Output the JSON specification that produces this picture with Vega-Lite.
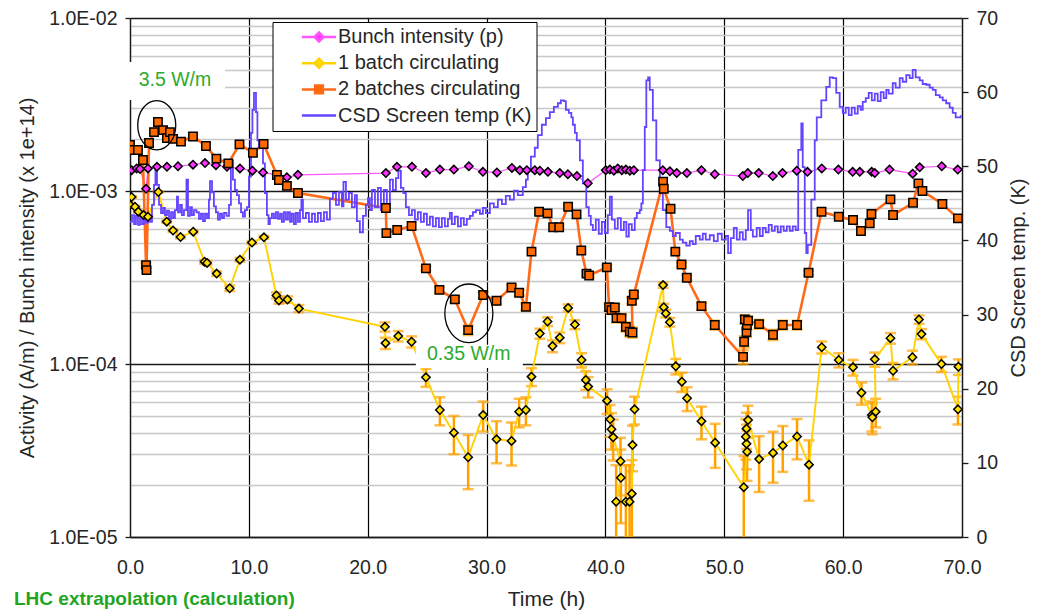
{
"$schema":"https://vega.github.io/schema/vega-lite/v6.json",
"width":832,"height":519,
"autosize":{"type":"none"},
"padding":{"left":130,"top":18,"right":85,"bottom":75},
"background":"white",
"config":{"font":"Liberation Sans","view":{"stroke":null},
"axis":{"labelFont":"Liberation Sans","titleFont":"Liberation Sans","labelColor":"#262626","titleColor":"#262626","titleFontWeight":"normal"},
"legend":{"labelFont":"Liberation Sans","labelFontSize":20,"labelColor":"#262626","labelLimit":400}},
"title":{"text":"LHC extrapolation (calculation)","orient":"bottom","anchor":"start","frame":"group","dx":-116,"offset":-20,"fontSize":19,"fontWeight":"bold","color":"#1FA51F","font":"Liberation Sans"},
"datasets":{
"main":[
{"s":"Bunch intensity (p)","t":0.14,"v":1.32e-3},{"s":"Bunch intensity (p)","t":0.56,"v":1.35e-3},{"s":"Bunch intensity (p)","t":0.84,"v":1.34e-3},{"s":"Bunch intensity (p)","t":1.35,"v":1.03e-3},{"s":"Bunch intensity (p)","t":1.51,"v":1.35e-3},{"s":"Bunch intensity (p)","t":2.27,"v":1.38e-3},{"s":"Bunch intensity (p)","t":3.11,"v":1.38e-3},{"s":"Bunch intensity (p)","t":4.04,"v":1.39e-3},{"s":"Bunch intensity (p)","t":5.3,"v":1.42e-3},{"s":"Bunch intensity (p)","t":6.31,"v":1.45e-3},{"s":"Bunch intensity (p)","t":7.23,"v":1.41e-3},{"s":"Bunch intensity (p)","t":8.16,"v":1.38e-3},{"s":"Bunch intensity (p)","t":9.25,"v":1.35e-3},{"s":"Bunch intensity (p)","t":10.3,"v":1.31e-3},{"s":"Bunch intensity (p)","t":11.19,"v":1.28e-3},{"s":"Bunch intensity (p)","t":12.36,"v":1.24e-3},{"s":"Bunch intensity (p)","t":13.2,"v":1.2e-3},{"s":"Bunch intensity (p)","t":14.13,"v":1.24e-3},{"s":"Bunch intensity (p)","t":21.53,"v":1.27e-3},{"s":"Bunch intensity (p)","t":22.46,"v":1.38e-3},{"s":"Bunch intensity (p)","t":23.72,"v":1.38e-3},{"s":"Bunch intensity (p)","t":24.9,"v":1.27e-3},{"s":"Bunch intensity (p)","t":26.07,"v":1.33e-3},{"s":"Bunch intensity (p)","t":27.25,"v":1.33e-3},{"s":"Bunch intensity (p)","t":28.51,"v":1.39e-3},{"s":"Bunch intensity (p)","t":29.69,"v":1.29e-3},{"s":"Bunch intensity (p)","t":30.87,"v":1.28e-3},{"s":"Bunch intensity (p)","t":32.13,"v":1.36e-3},{"s":"Bunch intensity (p)","t":32.8,"v":1.32e-3},{"s":"Bunch intensity (p)","t":33.39,"v":1.32e-3},{"s":"Bunch intensity (p)","t":34.06,"v":1.32e-3},{"s":"Bunch intensity (p)","t":34.48,"v":1.31e-3},{"s":"Bunch intensity (p)","t":35.16,"v":1.29e-3},{"s":"Bunch intensity (p)","t":36.16,"v":1.27e-3},{"s":"Bunch intensity (p)","t":36.84,"v":1.25e-3},{"s":"Bunch intensity (p)","t":37.6,"v":1.22e-3},{"s":"Bunch intensity (p)","t":38.52,"v":1.11e-3},{"s":"Bunch intensity (p)","t":40.03,"v":1.32e-3},{"s":"Bunch intensity (p)","t":40.37,"v":1.33e-3},{"s":"Bunch intensity (p)","t":40.71,"v":1.31e-3},{"s":"Bunch intensity (p)","t":41.04,"v":1.35e-3},{"s":"Bunch intensity (p)","t":41.38,"v":1.32e-3},{"s":"Bunch intensity (p)","t":41.72,"v":1.33e-3},{"s":"Bunch intensity (p)","t":42.05,"v":1.31e-3},{"s":"Bunch intensity (p)","t":42.39,"v":1.32e-3},{"s":"Bunch intensity (p)","t":44.83,"v":1.32e-3},{"s":"Bunch intensity (p)","t":45.42,"v":1.3e-3},{"s":"Bunch intensity (p)","t":46.0,"v":1.27e-3},{"s":"Bunch intensity (p)","t":46.85,"v":1.27e-3},{"s":"Bunch intensity (p)","t":48.08,"v":1.32e-3},{"s":"Bunch intensity (p)","t":49.2,"v":1.25e-3},{"s":"Bunch intensity (p)","t":51.56,"v":1.22e-3},{"s":"Bunch intensity (p)","t":51.98,"v":1.27e-3},{"s":"Bunch intensity (p)","t":52.9,"v":1.27e-3},{"s":"Bunch intensity (p)","t":54.08,"v":1.22e-3},{"s":"Bunch intensity (p)","t":54.9,"v":1.27e-3},{"s":"Bunch intensity (p)","t":56.1,"v":1.31e-3},{"s":"Bunch intensity (p)","t":57.0,"v":1.29e-3},{"s":"Bunch intensity (p)","t":58.2,"v":1.35e-3},{"s":"Bunch intensity (p)","t":59.6,"v":1.33e-3},{"s":"Bunch intensity (p)","t":60.8,"v":1.29e-3},{"s":"Bunch intensity (p)","t":61.4,"v":1.29e-3},{"s":"Bunch intensity (p)","t":62.4,"v":1.29e-3},{"s":"Bunch intensity (p)","t":62.66,"v":1.27e-3},{"s":"Bunch intensity (p)","t":63.9,"v":1.33e-3},{"s":"Bunch intensity (p)","t":65.85,"v":1.26e-3},{"s":"Bunch intensity (p)","t":66.44,"v":1.37e-3},{"s":"Bunch intensity (p)","t":68.3,"v":1.39e-3},{"s":"Bunch intensity (p)","t":69.64,"v":1.33e-3},
{"s":"1 batch circulating","t":0,"v":8.3e-4,"lo":8.2e-4,"hi":8.4e-4},{"s":"1 batch circulating","t":0.13,"v":9.23e-4,"lo":9.13e-4,"hi":9.33e-4},{"s":"1 batch circulating","t":0.42,"v":8.11e-4,"lo":8.01e-4,"hi":8.21e-4},{"s":"1 batch circulating","t":0.7,"v":7.59e-4,"lo":7.49e-4,"hi":7.69e-4},{"s":"1 batch circulating","t":1.14,"v":7.26e-4,"lo":7.16e-4,"hi":7.36e-4},{"s":"1 batch circulating","t":1.51,"v":7.1e-4,"lo":7.0e-4,"hi":7.2e-4},{"s":"1 batch circulating","t":2.38,"v":9.87e-4,"lo":9.77e-4,"hi":9.97e-4},{"s":"1 batch circulating","t":3.09,"v":6.65e-4,"lo":6.55e-4,"hi":6.75e-4},{"s":"1 batch circulating","t":3.62,"v":5.91e-4,"lo":5.81e-4,"hi":6.01e-4},{"s":"1 batch circulating","t":4.25,"v":5.42e-4,"lo":5.32e-4,"hi":5.52e-4},{"s":"1 batch circulating","t":5.32,"v":5.82e-4,"lo":5.72e-4,"hi":5.92e-4},{"s":"1 batch circulating","t":6.27,"v":3.9e-4,"lo":3.8e-4,"hi":4.0e-4},{"s":"1 batch circulating","t":6.48,"v":3.84e-4,"lo":3.74e-4,"hi":3.94e-4},{"s":"1 batch circulating","t":7.29,"v":3.33e-4,"lo":3.23e-4,"hi":3.43e-4},{"s":"1 batch circulating","t":8.39,"v":2.74e-4,"lo":2.64e-4,"hi":2.84e-4},{"s":"1 batch circulating","t":9.25,"v":4.01e-4,"lo":3.91e-4,"hi":4.11e-4},{"s":"1 batch circulating","t":10.26,"v":5.04e-4,"lo":4.94e-4,"hi":5.14e-4},{"s":"1 batch circulating","t":11.27,"v":5.4e-4,"lo":5.3e-4,"hi":5.5e-4},{"s":"1 batch circulating","t":12.32,"v":2.49e-4,"lo":2.39e-4,"hi":2.59e-4},{"s":"1 batch circulating","t":12.53,"v":2.33e-4,"lo":2.23e-4,"hi":2.43e-4},{"s":"1 batch circulating","t":13.25,"v":2.36e-4,"lo":2.26e-4,"hi":2.46e-4},{"s":"1 batch circulating","t":14.21,"v":2.09e-4,"lo":1.99e-4,"hi":2.19e-4},{"s":"1 batch circulating","t":21.45,"v":1.64e-4,"lo":1.54e-4,"hi":1.74e-4},{"s":"1 batch circulating","t":21.5,"v":1.32e-4,"lo":1.22e-4,"hi":1.42e-4},{"s":"1 batch circulating","t":22.57,"v":1.45e-4,"lo":1.35e-4,"hi":1.55e-4},{"s":"1 batch circulating","t":23.69,"v":1.345e-4,"lo":1.245e-4,"hi":1.445e-4},{"s":"1 batch circulating","t":24.9,"v":8.38e-5,"lo":7.38e-5,"hi":9.38e-5},{"s":"1 batch circulating","t":26.07,"v":5.42e-5,"lo":4.42e-5,"hi":6.42e-5},{"s":"1 batch circulating","t":27.25,"v":4.01e-5,"lo":3.01e-5,"hi":5.01e-5},{"s":"1 batch circulating","t":28.45,"v":2.89e-5,"lo":1.89e-5,"hi":3.89e-5},{"s":"1 batch circulating","t":29.71,"v":5.07e-5,"lo":4.07e-5,"hi":6.07e-5},{"s":"1 batch circulating","t":30.84,"v":3.67e-5,"lo":2.67e-5,"hi":4.67e-5},{"s":"1 batch circulating","t":32.1,"v":3.59e-5,"lo":2.59e-5,"hi":4.59e-5},{"s":"1 batch circulating","t":32.74,"v":5.3e-5,"lo":4.3e-5,"hi":6.3e-5},{"s":"1 batch circulating","t":33.31,"v":5.42e-5,"lo":4.42e-5,"hi":6.42e-5},{"s":"1 batch circulating","t":33.78,"v":8.45e-5,"lo":7.45e-5,"hi":9.45e-5},{"s":"1 batch circulating","t":34.48,"v":1.5e-4,"lo":1.4e-4,"hi":1.6e-4},{"s":"1 batch circulating","t":35.13,"v":1.76e-4,"lo":1.66e-4,"hi":1.86e-4},{"s":"1 batch circulating","t":35.55,"v":1.27e-4,"lo":1.17e-4,"hi":1.37e-4},{"s":"1 batch circulating","t":36.16,"v":1.42e-4,"lo":1.32e-4,"hi":1.52e-4},{"s":"1 batch circulating","t":36.86,"v":2.11e-4,"lo":2.01e-4,"hi":2.21e-4},{"s":"1 batch circulating","t":37.43,"v":1.69e-4,"lo":1.59e-4,"hi":1.79e-4},{"s":"1 batch circulating","t":37.99,"v":1.055e-4,"lo":9.55e-5,"hi":1.155e-4},{"s":"1 batch circulating","t":38.35,"v":8.09e-5,"lo":7.09e-5,"hi":9.09e-5},{"s":"1 batch circulating","t":38.55,"v":7.4e-5,"lo":6.4e-5,"hi":8.4e-5},{"s":"1 batch circulating","t":40.14,"v":6.14e-5,"lo":5.14e-5,"hi":7.14e-5},{"s":"1 batch circulating","t":40.4,"v":4.79e-5,"lo":3.79e-5,"hi":5.79e-5},{"s":"1 batch circulating","t":40.51,"v":4.2e-5,"lo":3.2e-5,"hi":5.2e-5},{"s":"1 batch circulating","t":40.65,"v":3.77e-5,"lo":2.77e-5,"hi":4.77e-5},{"s":"1 batch circulating","t":41.27,"v":2.74e-5,"lo":1.74e-5,"hi":3.74e-5},{"s":"1 batch circulating","t":41.3,"v":2.2e-5,"lo":1.2e-5,"hi":3.2e-5},{"s":"1 batch circulating","t":40.9,"v":1.6e-5,"lo":6e-6,"hi":2.6e-5},{"s":"1 batch circulating","t":41.72,"v":1.6e-5,"lo":6e-6,"hi":2.6e-5},{"s":"1 batch circulating","t":42.03,"v":1.6e-5,"lo":6e-6,"hi":2.6e-5},{"s":"1 batch circulating","t":42.22,"v":1.78e-5,"lo":7.8e-6,"hi":2.78e-5},{"s":"1 batch circulating","t":42.28,"v":3.4e-5,"lo":2.4e-5,"hi":4.4e-5},{"s":"1 batch circulating","t":42.45,"v":5.47e-5,"lo":4.47e-5,"hi":6.47e-5},{"s":"1 batch circulating","t":44.85,"v":2.86e-4,"lo":2.76e-4,"hi":2.96e-4},{"s":"1 batch circulating","t":44.91,"v":2.13e-4,"lo":2.03e-4,"hi":2.23e-4},{"s":"1 batch circulating","t":45.08,"v":1.96e-4,"lo":1.86e-4,"hi":2.06e-4},{"s":"1 batch circulating","t":45.42,"v":1.745e-4,"lo":1.645e-4,"hi":1.845e-4},{"s":"1 batch circulating","t":45.92,"v":9.7e-5,"lo":8.7e-5,"hi":1.07e-4},{"s":"1 batch circulating","t":46.43,"v":7.9e-5,"lo":6.9e-5,"hi":8.9e-5},{"s":"1 batch circulating","t":46.87,"v":6.34e-5,"lo":5.34e-5,"hi":7.34e-5},{"s":"1 batch circulating","t":48.08,"v":4.67e-5,"lo":3.67e-5,"hi":5.67e-5},{"s":"1 batch circulating","t":49.23,"v":3.51e-5,"lo":2.51e-5,"hi":4.51e-5},{"s":"1 batch circulating","t":51.64,"v":1.94e-5,"lo":9.4e-6,"hi":2.94e-5},{"s":"1 batch circulating","t":51.92,"v":3.11e-5,"lo":2.11e-5,"hi":4.11e-5},{"s":"1 batch circulating","t":51.87,"v":3.46e-5,"lo":2.46e-5,"hi":4.46e-5},{"s":"1 batch circulating","t":51.81,"v":3.8e-5,"lo":2.8e-5,"hi":4.8e-5},{"s":"1 batch circulating","t":51.87,"v":4.23e-5,"lo":3.23e-5,"hi":5.23e-5},{"s":"1 batch circulating","t":52.0,"v":4.74e-5,"lo":3.74e-5,"hi":5.74e-5},{"s":"1 batch circulating","t":52.93,"v":2.82e-5,"lo":1.82e-5,"hi":3.82e-5},{"s":"1 batch circulating","t":54.1,"v":3.06e-5,"lo":2.06e-5,"hi":4.06e-5},{"s":"1 batch circulating","t":54.92,"v":3.38e-5,"lo":2.38e-5,"hi":4.38e-5},{"s":"1 batch circulating","t":56.12,"v":3.81e-5,"lo":2.81e-5,"hi":4.81e-5},{"s":"1 batch circulating","t":57.13,"v":2.62e-5,"lo":1.62e-5,"hi":3.62e-5},{"s":"1 batch circulating","t":58.2,"v":1.25e-4,"lo":1.15e-4,"hi":1.35e-4},{"s":"1 batch circulating","t":59.63,"v":1.055e-4,"lo":9.55e-5,"hi":1.155e-4},{"s":"1 batch circulating","t":60.83,"v":9.57e-5,"lo":8.57e-5,"hi":1.057e-4},{"s":"1 batch circulating","t":61.54,"v":6.82e-5,"lo":5.82e-5,"hi":7.82e-5},{"s":"1 batch circulating","t":62.41,"v":5.07e-5,"lo":4.07e-5,"hi":6.07e-5},{"s":"1 batch circulating","t":62.46,"v":4.92e-5,"lo":3.92e-5,"hi":5.92e-5},{"s":"1 batch circulating","t":62.74,"v":5.3e-5,"lo":4.3e-5,"hi":6.3e-5},{"s":"1 batch circulating","t":62.66,"v":1.064e-4,"lo":9.64e-5,"hi":1.164e-4},{"s":"1 batch circulating","t":63.98,"v":1.41e-4,"lo":1.31e-4,"hi":1.51e-4},{"s":"1 batch circulating","t":64.2,"v":9.14e-5,"lo":8.14e-5,"hi":1.014e-4},{"s":"1 batch circulating","t":65.83,"v":1.094e-4,"lo":9.94e-5,"hi":1.194e-4},{"s":"1 batch circulating","t":66.38,"v":1.81e-4,"lo":1.71e-4,"hi":1.91e-4},{"s":"1 batch circulating","t":66.59,"v":1.49e-4,"lo":1.39e-4,"hi":1.59e-4},{"s":"1 batch circulating","t":68.27,"v":1.0e-4,"lo":9.0e-5,"hi":1.1e-4},{"s":"1 batch circulating","t":69.66,"v":5.47e-5,"lo":4.47e-5,"hi":6.47e-5},{"s":"1 batch circulating","t":69.7,"v":9.64e-5,"lo":8.64e-5,"hi":1.064e-4},
{"s":"2 batches circulating","t":0.0,"v":1.845e-3},{"s":"2 batches circulating","t":0.25,"v":1.726e-3},{"s":"2 batches circulating","t":0.67,"v":1.726e-3},{"s":"2 batches circulating","t":1.09,"v":1.51e-3},{"s":"2 batches circulating","t":1.35,"v":3.73e-4,"lo":3.63e-4,"hi":3.83e-4},{"s":"2 batches circulating","t":1.39,"v":3.49e-4,"lo":3.39e-4,"hi":3.59e-4},{"s":"2 batches circulating","t":1.6,"v":1.895e-3},{"s":"2 batches circulating","t":2.02,"v":2.19e-3},{"s":"2 batches circulating","t":2.35,"v":2.505e-3},{"s":"2 batches circulating","t":2.78,"v":2.25e-3},{"s":"2 batches circulating","t":3.11,"v":2.02e-3},{"s":"2 batches circulating","t":3.36,"v":2.19e-3},{"s":"2 batches circulating","t":3.62,"v":2.0e-3},{"s":"2 batches circulating","t":4.29,"v":1.93e-3},{"s":"2 batches circulating","t":5.3,"v":2.065e-3},{"s":"2 batches circulating","t":6.39,"v":1.82e-3},{"s":"2 batches circulating","t":7.27,"v":1.54e-3},{"s":"2 batches circulating","t":8.27,"v":1.445e-3},{"s":"2 batches circulating","t":9.21,"v":1.86e-3},{"s":"2 batches circulating","t":10.34,"v":1.665e-3},{"s":"2 batches circulating","t":11.24,"v":1.87e-3},{"s":"2 batches circulating","t":12.36,"v":1.237e-3},{"s":"2 batches circulating","t":12.53,"v":1.158e-3},{"s":"2 batches circulating","t":13.2,"v":1.07e-3},{"s":"2 batches circulating","t":14.13,"v":9.74e-4},{"s":"2 batches circulating","t":21.53,"v":7.98e-4},{"s":"2 batches circulating","t":21.57,"v":5.71e-4},{"s":"2 batches circulating","t":22.48,"v":5.95e-4},{"s":"2 batches circulating","t":23.69,"v":6.28e-4},{"s":"2 batches circulating","t":24.9,"v":3.57e-4,"lo":3.47e-4,"hi":3.67e-4},{"s":"2 batches circulating","t":26.03,"v":2.68e-4,"lo":2.58e-4,"hi":2.78e-4},{"s":"2 batches circulating","t":27.33,"v":2.365e-4,"lo":2.265e-4,"hi":2.465e-4},{"s":"2 batches circulating","t":28.45,"v":1.57e-4,"lo":1.47e-4,"hi":1.67e-4},{"s":"2 batches circulating","t":29.71,"v":2.505e-4,"lo":2.405e-4,"hi":2.605e-4},{"s":"2 batches circulating","t":30.84,"v":2.32e-4,"lo":2.22e-4,"hi":2.42e-4},{"s":"2 batches circulating","t":32.1,"v":2.77e-4,"lo":2.67e-4,"hi":2.87e-4},{"s":"2 batches circulating","t":32.74,"v":2.58e-4,"lo":2.48e-4,"hi":2.68e-4},{"s":"2 batches circulating","t":33.31,"v":2.14e-4,"lo":2.04e-4,"hi":2.24e-4},{"s":"2 batches circulating","t":33.78,"v":4.46e-4},{"s":"2 batches circulating","t":34.42,"v":7.59e-4},{"s":"2 batches circulating","t":35.13,"v":7.43e-4},{"s":"2 batches circulating","t":35.6,"v":6.17e-4},{"s":"2 batches circulating","t":36.11,"v":6.17e-4},{"s":"2 batches circulating","t":36.86,"v":8.11e-4},{"s":"2 batches circulating","t":37.57,"v":7.33e-4},{"s":"2 batches circulating","t":37.97,"v":4.53e-4},{"s":"2 batches circulating","t":38.41,"v":3.33e-4,"lo":3.23e-4,"hi":3.43e-4},{"s":"2 batches circulating","t":38.63,"v":3.25e-4,"lo":3.15e-4,"hi":3.35e-4},{"s":"2 batches circulating","t":40.12,"v":3.62e-4,"lo":3.52e-4,"hi":3.72e-4},{"s":"2 batches circulating","t":40.31,"v":2.13e-4,"lo":2.03e-4,"hi":2.23e-4},{"s":"2 batches circulating","t":40.51,"v":2.05e-4,"lo":1.95e-4,"hi":2.15e-4},{"s":"2 batches circulating","t":40.79,"v":2.12e-4,"lo":2.02e-4,"hi":2.22e-4},{"s":"2 batches circulating","t":40.93,"v":1.84e-4,"lo":1.74e-4,"hi":1.94e-4},{"s":"2 batches circulating","t":41.35,"v":1.84e-4,"lo":1.74e-4,"hi":1.94e-4},{"s":"2 batches circulating","t":41.72,"v":1.64e-4,"lo":1.54e-4,"hi":1.74e-4},{"s":"2 batches circulating","t":42.05,"v":1.54e-4,"lo":1.44e-4,"hi":1.64e-4},{"s":"2 batches circulating","t":42.28,"v":1.52e-4,"lo":1.42e-4,"hi":1.62e-4},{"s":"2 batches circulating","t":42.22,"v":2.32e-4,"lo":2.22e-4,"hi":2.42e-4},{"s":"2 batches circulating","t":42.39,"v":2.52e-4,"lo":2.42e-4,"hi":2.62e-4},{"s":"2 batches circulating","t":44.85,"v":1.132e-3},{"s":"2 batches circulating","t":44.91,"v":1.03e-3},{"s":"2 batches circulating","t":45.48,"v":7.9e-4},{"s":"2 batches circulating","t":45.88,"v":4.46e-4},{"s":"2 batches circulating","t":46.4,"v":3.76e-4,"lo":3.66e-4,"hi":3.86e-4},{"s":"2 batches circulating","t":46.85,"v":3.15e-4,"lo":3.05e-4,"hi":3.25e-4},{"s":"2 batches circulating","t":48.08,"v":2.16e-4,"lo":2.06e-4,"hi":2.26e-4},{"s":"2 batches circulating","t":49.2,"v":1.68e-4,"lo":1.58e-4,"hi":1.78e-4},{"s":"2 batches circulating","t":51.58,"v":1.1e-4,"lo":1.0e-4,"hi":1.2e-4},{"s":"2 batches circulating","t":51.67,"v":1.345e-4,"lo":1.245e-4,"hi":1.445e-4},{"s":"2 batches circulating","t":51.87,"v":1.53e-4,"lo":1.43e-4,"hi":1.63e-4},{"s":"2 batches circulating","t":51.9,"v":1.68e-4,"lo":1.58e-4,"hi":1.78e-4},{"s":"2 batches circulating","t":51.73,"v":1.81e-4,"lo":1.71e-4,"hi":1.91e-4},{"s":"2 batches circulating","t":52.0,"v":1.78e-4,"lo":1.68e-4,"hi":1.88e-4},{"s":"2 batches circulating","t":52.93,"v":1.7e-4,"lo":1.6e-4,"hi":1.8e-4},{"s":"2 batches circulating","t":54.1,"v":1.476e-4,"lo":1.376e-4,"hi":1.576e-4},{"s":"2 batches circulating","t":54.92,"v":1.68e-4,"lo":1.58e-4,"hi":1.78e-4},{"s":"2 batches circulating","t":56.12,"v":1.68e-4,"lo":1.58e-4,"hi":1.78e-4},{"s":"2 batches circulating","t":57.09,"v":3.37e-4,"lo":3.27e-4,"hi":3.47e-4},{"s":"2 batches circulating","t":58.18,"v":7.59e-4},{"s":"2 batches circulating","t":59.63,"v":7.1e-4},{"s":"2 batches circulating","t":60.83,"v":6.8e-4},{"s":"2 batches circulating","t":61.5,"v":5.87e-4},{"s":"2 batches circulating","t":62.24,"v":6.5e-4},{"s":"2 batches circulating","t":62.38,"v":7.36e-4},{"s":"2 batches circulating","t":63.98,"v":8.95e-4},{"s":"2 batches circulating","t":64.2,"v":7.26e-4},{"s":"2 batches circulating","t":65.88,"v":8.55e-4},{"s":"2 batches circulating","t":66.33,"v":1.107e-3},{"s":"2 batches circulating","t":66.67,"v":1.0e-3},{"s":"2 batches circulating","t":68.35,"v":8.41e-4},{"s":"2 batches circulating","t":69.66,"v":6.95e-4}
],
"temp":[
{"t":0,"k":42.5},{"t":0.17,"k":43.4},{"t":0.34,"k":42.2},{"t":0.5,"k":43.3},{"t":0.67,"k":42.1},{"t":0.84,"k":43.2},{"t":1.01,"k":42.2},{"t":1.18,"k":43.4},{"t":1.35,"k":42.4},{"t":1.51,"k":43.0},{"t":1.68,"k":42.5},{"t":1.85,"k":44.8},{"t":2.02,"k":47.5},{"t":2.14,"k":49.5},{"t":2.27,"k":47.5},{"t":2.44,"k":44.8},{"t":2.61,"k":43.7},{"t":2.78,"k":44.4},{"t":2.94,"k":43.4},{"t":3.11,"k":44.0},{"t":3.28,"k":42.9},{"t":3.45,"k":43.8},{"t":3.62,"k":43.0},{"t":3.78,"k":44.1},{"t":3.95,"k":45.9},{"t":4.04,"k":43.8},{"t":4.21,"k":44.8},{"t":4.37,"k":43.4},{"t":4.54,"k":44.1},{"t":4.75,"k":48.2},{"t":4.88,"k":43.3},{"t":5.05,"k":44.5},{"t":5.21,"k":43.4},{"t":5.38,"k":44.1},{"t":5.59,"k":43.8},{"t":5.8,"k":42.9},{"t":5.97,"k":43.6},{"t":6.14,"k":42.6},{"t":6.31,"k":43.6},{"t":6.48,"k":43.0},{"t":6.64,"k":45.5},{"t":6.73,"k":48.0},{"t":6.9,"k":46.5},{"t":7.06,"k":44.6},{"t":7.23,"k":43.8},{"t":7.4,"k":42.8},{"t":7.57,"k":43.6},{"t":7.74,"k":43.0},{"t":7.91,"k":43.7},{"t":8.12,"k":43.3},{"t":8.33,"k":44.8},{"t":8.49,"k":50.8},{"t":8.66,"k":48.2},{"t":8.83,"k":46.8},{"t":9.0,"k":46.1},{"t":9.17,"k":45.0},{"t":9.34,"k":43.8},{"t":9.5,"k":43.2},{"t":9.67,"k":44.1},{"t":9.84,"k":44.5},{"t":10.01,"k":48.6},{"t":10.18,"k":54.5},{"t":10.3,"k":57.6},{"t":10.43,"k":59.9},{"t":10.6,"k":57.3},{"t":10.72,"k":53.5},{"t":10.85,"k":52.6},{"t":11.02,"k":53.5},{"t":11.19,"k":50.4},{"t":11.35,"k":46.4},{"t":11.52,"k":43.4},{"t":11.65,"k":42.2},{"t":11.77,"k":43.0},{"t":11.94,"k":43.6},{"t":12.11,"k":43.0},{"t":12.28,"k":43.8},{"t":12.45,"k":42.9},{"t":12.62,"k":43.6},{"t":12.78,"k":42.5},{"t":12.95,"k":43.8},{"t":13.12,"k":42.8},{"t":13.29,"k":43.8},{"t":13.46,"k":42.5},{"t":13.62,"k":43.6},{"t":13.79,"k":42.2},{"t":13.96,"k":43.7},{"t":14.13,"k":42.5},{"t":14.3,"k":44.1},{"t":14.42,"k":45.5},{"t":14.55,"k":43.0},{"t":14.8,"k":43.7},{"t":15.05,"k":42.5},{"t":15.31,"k":43.6},{"t":15.56,"k":42.5},{"t":15.81,"k":43.7},{"t":16.06,"k":42.6},{"t":16.32,"k":43.8},{"t":16.57,"k":42.8},{"t":16.82,"k":45.6},{"t":17.07,"k":46.4},{"t":17.33,"k":44.8},{"t":17.58,"k":46.5},{"t":17.83,"k":44.6},{"t":17.96,"k":47.9},{"t":18.17,"k":45.5},{"t":18.42,"k":46.4},{"t":18.67,"k":44.5},{"t":18.92,"k":46.1},{"t":19.09,"k":42.6},{"t":19.34,"k":41.1},{"t":19.6,"k":43.3},{"t":19.85,"k":44.8},{"t":20.02,"k":45.7},{"t":20.18,"k":44.1},{"t":20.35,"k":46.8},{"t":20.61,"k":44.5},{"t":20.86,"k":47.1},{"t":21.11,"k":44.1},{"t":21.36,"k":46.8},{"t":21.61,"k":44.8},{"t":21.87,"k":48.2},{"t":22.12,"k":46.8},{"t":22.37,"k":48.4},{"t":22.58,"k":49.4},{"t":22.79,"k":47.1},{"t":23.0,"k":46.4},{"t":23.21,"k":44.5},{"t":23.47,"k":43.4},{"t":23.72,"k":44.1},{"t":23.97,"k":42.8},{"t":24.22,"k":43.8},{"t":24.47,"k":42.5},{"t":24.73,"k":43.6},{"t":24.98,"k":42.1},{"t":25.23,"k":43.2},{"t":25.48,"k":41.9},{"t":25.74,"k":43.0},{"t":25.99,"k":41.8},{"t":26.24,"k":43.0},{"t":26.49,"k":41.9},{"t":26.75,"k":42.9},{"t":26.91,"k":43.7},{"t":27.08,"k":42.2},{"t":27.33,"k":43.2},{"t":27.59,"k":41.9},{"t":27.84,"k":43.0},{"t":28.09,"k":42.1},{"t":28.34,"k":42.9},{"t":28.6,"k":43.3},{"t":28.85,"k":43.8},{"t":29.1,"k":44.1},{"t":29.44,"k":43.6},{"t":29.69,"k":44.4},{"t":29.94,"k":43.7},{"t":30.28,"k":45.0},{"t":30.61,"k":44.5},{"t":30.95,"k":45.5},{"t":31.29,"k":44.9},{"t":31.62,"k":46.0},{"t":31.96,"k":45.5},{"t":32.3,"k":46.7},{"t":32.63,"k":46.1},{"t":33.05,"k":47.2},{"t":33.31,"k":48.2},{"t":33.47,"k":49.5},{"t":33.73,"k":51.3},{"t":34.06,"k":52.5},{"t":34.31,"k":54.2},{"t":34.65,"k":55.6},{"t":34.99,"k":56.5},{"t":35.32,"k":57.3},{"t":35.66,"k":58.0},{"t":36.0,"k":58.5},{"t":36.25,"k":58.9},{"t":36.5,"k":58.8},{"t":36.67,"k":57.6},{"t":36.92,"k":57.2},{"t":37.13,"k":56.6},{"t":37.26,"k":55.6},{"t":37.43,"k":54.5},{"t":37.59,"k":53.5},{"t":37.85,"k":50.8},{"t":38.1,"k":47.7},{"t":38.39,"k":44.5},{"t":38.6,"k":43.3},{"t":38.77,"k":42.1},{"t":38.94,"k":41.4},{"t":39.19,"k":42.8},{"t":39.44,"k":40.9},{"t":39.7,"k":42.5},{"t":39.95,"k":41.0},{"t":40.2,"k":43.4},{"t":40.37,"k":45.9},{"t":40.54,"k":42.8},{"t":40.79,"k":41.6},{"t":41.04,"k":43.0},{"t":41.3,"k":41.4},{"t":41.55,"k":42.5},{"t":41.76,"k":40.5},{"t":41.97,"k":42.2},{"t":42.22,"k":41.4},{"t":42.47,"k":43.0},{"t":42.64,"k":43.7},{"t":42.89,"k":44.1},{"t":43.02,"k":45.0},{"t":43.15,"k":49.5},{"t":43.31,"k":55.3},{"t":43.44,"k":61.6},{"t":43.59,"k":62.0},{"t":43.73,"k":60.3},{"t":43.99,"k":56.2},{"t":44.28,"k":50.8},{"t":44.58,"k":46.4},{"t":44.83,"k":44.1},{"t":45.12,"k":41.8},{"t":45.42,"k":41.3},{"t":45.67,"k":40.6},{"t":45.92,"k":41.0},{"t":46.26,"k":40.1},{"t":46.51,"k":39.7},{"t":46.8,"k":39.3},{"t":47.1,"k":39.9},{"t":47.35,"k":39.5},{"t":47.6,"k":40.6},{"t":47.94,"k":40.1},{"t":48.19,"k":40.9},{"t":48.44,"k":40.1},{"t":48.78,"k":40.7},{"t":49.12,"k":39.9},{"t":49.45,"k":40.9},{"t":49.79,"k":40.1},{"t":50.13,"k":40.6},{"t":50.32,"k":38.3},{"t":50.55,"k":40.3},{"t":50.8,"k":41.7},{"t":51.05,"k":40.1},{"t":51.3,"k":41.1},{"t":51.56,"k":40.1},{"t":51.81,"k":41.4},{"t":52.0,"k":44.1},{"t":52.23,"k":41.4},{"t":52.4,"k":40.5},{"t":52.73,"k":41.7},{"t":52.99,"k":40.6},{"t":53.24,"k":41.7},{"t":53.49,"k":41.1},{"t":53.74,"k":42.1},{"t":54.0,"k":41.3},{"t":54.25,"k":41.9},{"t":54.5,"k":41.1},{"t":54.75,"k":41.9},{"t":55.0,"k":41.3},{"t":55.26,"k":41.9},{"t":55.51,"k":41.3},{"t":55.76,"k":41.9},{"t":56.01,"k":41.4},{"t":56.22,"k":52.2},{"t":56.48,"k":55.8},{"t":56.6,"k":49.9},{"t":56.77,"k":41.0},{"t":56.9,"k":38.3},{"t":57.02,"k":39.4},{"t":57.32,"k":45.5},{"t":57.61,"k":53.5},{"t":57.78,"k":56.6},{"t":58.16,"k":58.9},{"t":58.58,"k":60.7},{"t":58.87,"k":62.0},{"t":59.13,"k":61.9},{"t":59.42,"k":59.9},{"t":59.71,"k":58.0},{"t":59.97,"k":57.2},{"t":60.22,"k":57.9},{"t":60.47,"k":56.9},{"t":60.72,"k":57.9},{"t":60.98,"k":57.1},{"t":61.23,"k":58.1},{"t":61.48,"k":57.6},{"t":61.65,"k":58.7},{"t":61.9,"k":59.2},{"t":62.15,"k":59.9},{"t":62.41,"k":58.9},{"t":62.66,"k":59.8},{"t":62.91,"k":58.8},{"t":63.16,"k":60.0},{"t":63.41,"k":59.2},{"t":63.63,"k":60.3},{"t":63.83,"k":59.8},{"t":64.17,"k":61.2},{"t":64.42,"k":60.6},{"t":64.76,"k":61.9},{"t":65.01,"k":61.4},{"t":65.31,"k":62.3},{"t":65.6,"k":61.9},{"t":65.85,"k":63.0},{"t":66.1,"k":62.0},{"t":66.44,"k":61.6},{"t":66.69,"k":61.1},{"t":66.99,"k":61.0},{"t":67.28,"k":60.6},{"t":67.54,"k":60.3},{"t":67.79,"k":59.6},{"t":68.12,"k":59.3},{"t":68.38,"k":58.9},{"t":68.67,"k":58.5},{"t":68.96,"k":57.9},{"t":69.22,"k":57.2},{"t":69.47,"k":56.6},{"t":69.66,"k":56.6},{"t":69.89,"k":56.9}
],
"ann":[
{"id":"e1","t":2.25,"v":0.0024},
{"id":"e2","t":28.51,"v":0.0001963},
{"id":"l1","t":3.78,"v":0.00438,"label":"3.5 W/m"},
{"id":"l2","t":28.5,"v":0.0001142,"label":"0.35 W/m"},
{"id":"b1","t":-0.3,"t2":8.0,"v":0.00557,"v2":0.00336},
{"id":"b2","t":24.05,"t2":33.05,"v":0.000129,"v2":0.0000948}
]},
"layer":[
{"data":{"name":"main"},
"transform":[{"filter":"isValid(datum.lo)"}],
"mark":{"type":"errorbar","color":"#FFA200","thickness":2.5,"size":11,"ticks":true,"clip":true},
"encoding":{
"x":{"field":"t","type":"quantitative","scale":{"domain":[0,70],"nice":false,"zero":false},"axis":null},
"y":{"field":"lo","type":"quantitative","scale":{"type":"log","domain":[1e-5,1e-2],"nice":false},"axis":null},
"y2":{"field":"hi"}}},
{"data":{"name":"main"},
"mark":{"type":"line","clip":true},
"encoding":{
"x":{"field":"t","type":"quantitative","scale":{"domain":[0,70],"nice":false,"zero":false},
"axis":{"orient":"bottom","values":[0,10,20,30,40,50,60,70],"format":".1f","grid":true,"gridColor":"#000000","gridWidth":1.2,"domainColor":"#1a1a1a","domainWidth":1.3,"ticks":false,"labelPadding":21,"labelFontSize":19.5,"labelFlush":false,"labelOverlap":false,"title":"Time (h)","titleFontSize":21,"titlePadding":12}},
"y":{"field":"v","type":"quantitative","scale":{"type":"log","domain":[1e-5,1e-2],"nice":false},
"axis":{"orient":"left","values":[1e-5,2e-5,3e-5,4e-5,5e-5,6e-5,7e-5,8e-5,9e-5,1e-4,2e-4,3e-4,4e-4,5e-4,6e-4,7e-4,8e-4,9e-4,1e-3,2e-3,3e-3,4e-3,5e-3,6e-3,7e-3,8e-3,9e-3,1e-2],
"labelExpr":"abs(log(datum.value)/LN10 - round(log(datum.value)/LN10)) < 0.01 ? '1.0E-0' + (-round(log(datum.value)/LN10)) : ''",
"labelFontSize":19.5,"labelPadding":8,"labelOverlap":false,"labelFlush":false,"tickSize":5,"tickColor":"#1a1a1a","tickWidth":1.3,
"tickOpacity":{"condition":{"test":"abs(log(datum.value)/LN10 - round(log(datum.value)/LN10)) < 0.01","value":1},"value":0},
"grid":true,
"gridColor":{"condition":{"test":"abs(log(datum.value)/LN10 - round(log(datum.value)/LN10)) < 0.01","value":"#1a1a1a"},"value":"#c8c8c8"},
"gridWidth":{"condition":{"test":"abs(log(datum.value)/LN10 - round(log(datum.value)/LN10)) < 0.01","value":1.3},"value":1.6},
"domainColor":"#1a1a1a","domainWidth":1.3,
"title":"Activity (A/m) / Bunch intensity (x 1e+14)","titleFontSize":20,"titlePadding":11}},
"stroke":{"field":"s","type":"nominal","scale":{"domain":["Bunch intensity (p)","1 batch circulating","2 batches circulating","CSD Screen temp (K)"],"range":["#FF55FF","#FFD200","#FF6A1A","#6644FF"]},
"legend":{"orient":"none","legendX":142.5,"legendY":4,"title":null,"symbolType":"M -2.85 0 L 2.85 0","symbolSize":144,"symbolStrokeWidth":2.5,"symbolOffset":31.5,"labelOffset":9,"padding":5,"rowPadding":6.2,"strokeColor":"black","fillColor":"white","zindex":1,
"encode":{"symbols":{"update":{
"shape":{"signal":"datum.label === 'CSD Screen temp (K)' ? 'M -2.85 0 L 2.85 0' : (datum.label === '2 batches circulating' ? 'M -2.85 0 L -0.65 0 M 0.65 0 L 2.85 0 M -0.65 -0.65 L 0.65 -0.65 L 0.65 0.65 L -0.65 0.65 Z' : 'M -2.85 0 L -0.75 0 M 0.75 0 L 2.85 0 M 0 -0.75 L 0.75 0 L 0 0.75 L -0.75 0 Z')"},
"fill":{"signal":"datum.label === 'Bunch intensity (p)' ? '#FF33FF' : (datum.label === '1 batch circulating' ? '#FFE000' : (datum.label === '2 batches circulating' ? '#FF6A00' : 'transparent'))"}}}}}},
"strokeWidth":{"field":"s","type":"nominal","scale":{"domain":["Bunch intensity (p)","1 batch circulating","2 batches circulating"],"range":[1.2,2.6,2.2]},"legend":null},
"order":{"value":null}}},
{"data":{"name":"ann"},
"transform":[{"filter":"datum.id == 'b1' || datum.id == 'b2'"}],
"mark":{"type":"rect","fill":"white","clip":false},
"encoding":{
"x":{"field":"t","type":"quantitative","scale":{"domain":[0,70],"nice":false,"zero":false},"axis":null},
"x2":{"field":"t2"},
"y":{"field":"v","type":"quantitative","scale":{"type":"log","domain":[1e-5,1e-2],"nice":false},"axis":null},
"y2":{"field":"v2"}}},
{"data":{"name":"temp"},
"mark":{"type":"line","strokeWidth":1.8,"interpolate":"step-after","clip":true},
"encoding":{
"x":{"field":"t","type":"quantitative","scale":{"domain":[0,70],"nice":false,"zero":false},"axis":null},
"y":{"field":"k","type":"quantitative","scale":{"domain":[0,70],"nice":false,"zero":false},
"axis":{"orient":"right","values":[0,10,20,30,40,50,60,70],"grid":false,"tickSize":6,"tickColor":"#1a1a1a","tickWidth":1.3,"labelPadding":8,"labelFontSize":19.5,"labelFlush":false,"labelOverlap":false,"domainColor":"#1a1a1a","domainWidth":1.3,"title":"CSD Screen temp. (K)","titleFontSize":20,"titleAngle":270,"titlePadding":31}},
"stroke":{"datum":"CSD Screen temp (K)","type":"nominal","legend":null},
"order":{"value":null}}},
{"data":{"name":"main"},
"mark":{"type":"point","filled":true,"stroke":"black","strokeWidth":1.5,"size":70,"opacity":1,"clip":true},
"encoding":{
"x":{"field":"t","type":"quantitative","scale":{"domain":[0,70],"nice":false,"zero":false},"axis":null},
"y":{"field":"v","type":"quantitative","scale":{"type":"log","domain":[1e-5,1e-2],"nice":false},"axis":null},
"fill":{"field":"s","type":"nominal","scale":{"domain":["Bunch intensity (p)","1 batch circulating","2 batches circulating"],"range":["#FF33FF","#FFE000","#FF6A00"]},"legend":null},
"shape":{"field":"s","type":"nominal","scale":{"domain":["Bunch intensity (p)","1 batch circulating","2 batches circulating"],"range":["diamond","diamond","square"]},"legend":null}}},
{"data":{"name":"ann"},
"transform":[{"filter":"datum.id == 'e1'"}],
"mark":{"type":"point","shape":"M -0.77 0 A 0.77 1 0 1 1 0.77 0 A 0.77 1 0 1 1 -0.77 0 Z","size":2440,"filled":false,"stroke":"black","strokeWidth":1.3,"opacity":1},
"encoding":{
"x":{"field":"t","type":"quantitative","scale":{"domain":[0,70],"nice":false,"zero":false},"axis":null},
"y":{"field":"v","type":"quantitative","scale":{"type":"log","domain":[1e-5,1e-2],"nice":false},"axis":null}}},
{"data":{"name":"ann"},
"transform":[{"filter":"datum.id == 'e2'"}],
"mark":{"type":"point","shape":"M -0.82 0 A 0.82 1 0 1 1 0.82 0 A 0.82 1 0 1 1 -0.82 0 Z","size":3434,"filled":false,"stroke":"black","strokeWidth":1.3,"opacity":1},
"encoding":{
"x":{"field":"t","type":"quantitative","scale":{"domain":[0,70],"nice":false,"zero":false},"axis":null},
"y":{"field":"v","type":"quantitative","scale":{"type":"log","domain":[1e-5,1e-2],"nice":false},"axis":null}}},
{"data":{"name":"ann"},
"transform":[{"filter":"isValid(datum.label)"}],
"mark":{"type":"text","fontSize":19.5,"color":"#2EAA2E","align":"center","baseline":"middle","font":"Liberation Sans"},
"encoding":{
"x":{"field":"t","type":"quantitative","scale":{"domain":[0,70],"nice":false,"zero":false},"axis":null},
"y":{"field":"v","type":"quantitative","scale":{"type":"log","domain":[1e-5,1e-2],"nice":false},"axis":null},
"text":{"field":"label"}}}
],
"resolve":{"scale":{"y":"independent","x":"independent"}}
}
